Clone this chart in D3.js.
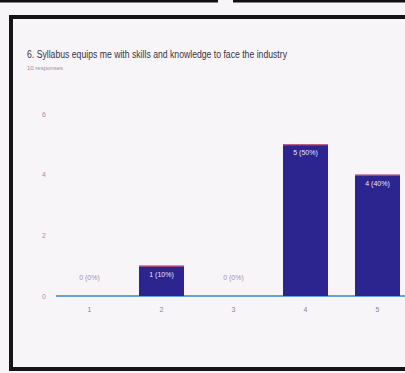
<!DOCTYPE html>
<html>
<head>
<meta charset="utf-8">
<script src="https://cdn.jsdelivr.net/npm/d3@7"></script>
<style>
  body { margin: 0; background: #f8f5f9; }
  svg { display: block; }
</style>
</head>
<body>
<svg id="chart" width="405" height="373"></svg>
<script>
'use strict';

const categories = ["1", "2", "3", "4", "5"];
const counts = [0, 1, 0, 5, 4];
const barLabels = ["0 (0%)", "1 (10%)", "0 (0%)", "5 (50%)", "4 (40%)"];
const yTicks = [0, 2, 4, 6];
const title = "6. Syllabus equips me with skills and knowledge to face the industry";
const subtitle = "10 responses";

const svg = d3.select("#chart");
const W = 405, H = 373;
const margin = { top: 114, bottom: 77, left: 56 };

svg.append("rect").attr("width", W).attr("height", H).attr("fill", "#f8f5f9");

// frame of the printed page
svg.append("line").attr("x1", 0).attr("x2", 218).attr("y1", 1).attr("y2", 1)
  .attr("stroke", "#111").attr("stroke-width", 3);
svg.append("line").attr("x1", 233).attr("x2", W).attr("y1", 1).attr("y2", 1)
  .attr("stroke", "#111").attr("stroke-width", 3);
svg.append("path")
  .attr("d", `M${W},17 H11 V369 H${W}`)
  .attr("fill", "none").attr("stroke", "#151515").attr("stroke-width", 4);

svg.append("text").attr("x", 27).attr("y", 58)
  .attr("font-family", "Liberation Sans Narrow, Liberation Sans, sans-serif")
  .attr("font-size", 10).attr("fill", "#3a3340")
  .attr("textLength", 260).attr("lengthAdjust", "spacingAndGlyphs")
  .text(title);

svg.append("text").attr("x", 27).attr("y", 70)
  .attr("font-family", "Liberation Sans, sans-serif")
  .attr("font-size", 6).attr("fill", "#9a90a5")
  .text(subtitle);

const x = d3.scaleBand().domain(categories)
  .range([45.4, 421.6]).paddingInner(0.375).paddingOuter(0.3);
const y = d3.scaleLinear().domain([0, 6]).range([H - margin.bottom, margin.top]);

const yAxis = svg.append("g").attr("transform", `translate(${margin.left - 8},0)`)
  .call(d3.axisLeft(y).tickValues(yTicks).tickFormat(d3.format("d")).tickSize(0).tickPadding(2));
yAxis.select(".domain").remove();
yAxis.selectAll("text").attr("fill", "#9c94a4").attr("font-size", 7)
  .attr("font-family", "Liberation Sans Narrow, sans-serif");

const xAxis = svg.append("g").attr("transform", `translate(0,${y(0)})`)
  .call(d3.axisBottom(x).tickSize(0).tickPadding(11));
xAxis.select(".domain").remove();
xAxis.selectAll("text").attr("fill", "#8c8496").attr("font-size", 7)
  .attr("font-family", "Liberation Sans Narrow, sans-serif");

svg.append("line").attr("x1", margin.left).attr("x2", W)
  .attr("y1", y(0) - 0.5).attr("y2", y(0) - 0.5)
  .attr("stroke", "#e07a6a").attr("stroke-width", 1);
svg.append("line").attr("x1", margin.left).attr("x2", W)
  .attr("y1", y(0) + 0.5).attr("y2", y(0) + 0.5)
  .attr("stroke", "#5fa6d8").attr("stroke-width", 1);

svg.selectAll(".bar").data(counts).enter().append("rect")
  .attr("class", "bar")
  .attr("x", (d, i) => x(categories[i]))
  .attr("width", x.bandwidth())
  .attr("y", d => y(d))
  .attr("height", d => y(0) - y(d))
  .attr("fill", "#2c2590");

counts.forEach((d, i) => {
  if (d > 0) {
    svg.append("line")
      .attr("x1", x(categories[i])).attr("x2", x(categories[i]) + x.bandwidth())
      .attr("y1", y(d) + 0.5).attr("y2", y(d) + 0.5)
      .attr("stroke", "#e05a7a").attr("stroke-width", 1);
  }
});

svg.selectAll(".lbl").data(counts).enter().append("text")
  .attr("class", "lbl")
  .attr("x", (d, i) => x(categories[i]) + x.bandwidth() / 2)
  .attr("y", d => d > 0 ? y(d) + 11 : y(d) - 16)
  .attr("text-anchor", "middle")
  .attr("font-family", "Liberation Sans Narrow, sans-serif")
  .attr("font-size", 7)
  .attr("fill", d => d > 0 ? "#e8e4f4" : "#9c94a4")
  .text((d, i) => barLabels[i]);
</script>
</body>
</html>
